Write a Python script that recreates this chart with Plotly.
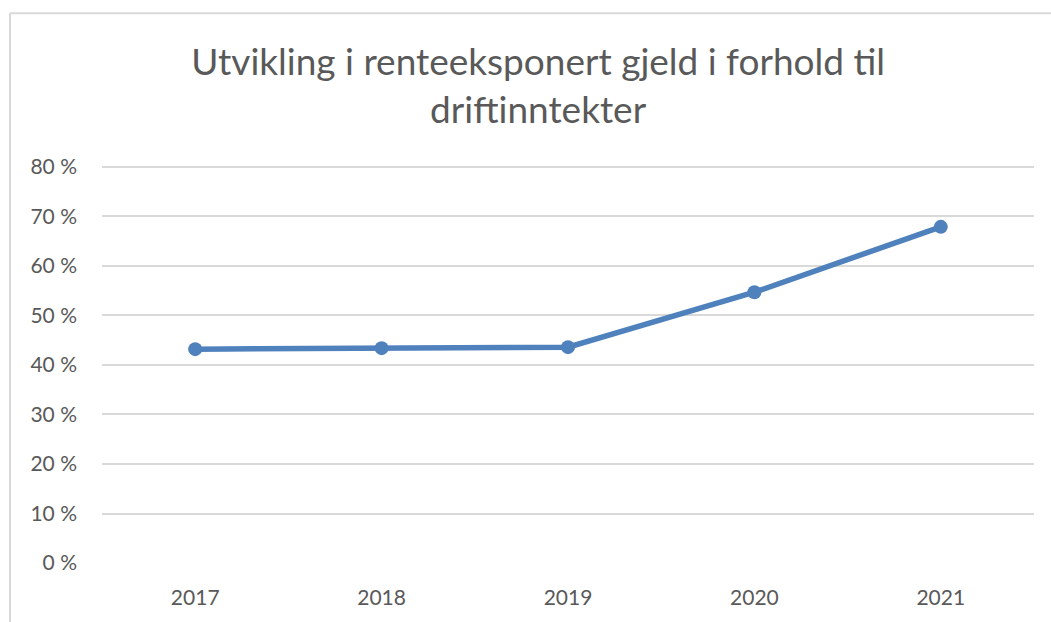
import plotly.graph_objects as go

# -------------------------------------
# DATA
# -------------------------------------

years = ["2017", "2018", "2019", "2020", "2021"]
andel = [43.2, 43.4, 43.6, 54.7, 67.9]
y_ticks = [0, 10, 20, 30, 40, 50, 60, 70, 80]
y_labels = [f"{v} %" for v in y_ticks]

title_text = "Utvikling i renteeksponert gjeld i forhold til<br>driftinntekter"

# -------------------------------------
# CHART
# -------------------------------------

fig = go.Figure()

fig.add_trace(
    go.Scatter(
        x=years,
        y=andel,
        mode="lines+markers",
        line=dict(color="#4f81bd", width=5.5),
        marker=dict(color="#4f81bd", size=14),
        showlegend=False,
        hoverinfo="skip"
    )
)

# chart frame (top and left edge, as in the screenshot)
fig.add_shape(type="line", xref="paper", yref="paper",
              x0=-0.0987, x1=1.02, y0=1.378, y1=1.378,
              line=dict(color="#d9d9d9", width=2))
fig.add_shape(type="line", xref="paper", yref="paper",
              x0=-0.0987, x1=-0.0987, y0=1.378, y1=-0.16,
              line=dict(color="#d9d9d9", width=2))

fig.update_layout(
    width=1051,
    height=622,
    paper_bgcolor="white",
    plot_bgcolor="white",
    margin=dict(l=102, r=17, t=164, b=59),
    font=dict(family="Lato, Open Sans, sans-serif", color="#595959", size=21),
    title=dict(
        text=title_text,
        x=0.512,
        xanchor="center",
        y=1 - 75 / 622,
        yanchor="middle",
        font=dict(size=37, color="#595959", family="Lato, sans-serif")
    )
)

fig.update_xaxes(
    type="category",
    range=[-0.5, 4.5],
    showgrid=False,
    showline=False,
    zeroline=False,
    ticks="",
    ticklabelstandoff=20,
    tickfont=dict(size=21, color="#595959")
)

fig.update_yaxes(
    range=[0, 80.6],
    tickmode="array",
    tickvals=y_ticks,
    ticktext=y_labels,
    showgrid=True,
    gridcolor="#d9d9d9",
    gridwidth=1.5,
    zeroline=False,
    showline=False,
    ticks="",
    ticklabelstandoff=24,
    tickfont=dict(size=21, color="#595959")
)

# drop the default 8px page margin so the chart sits at the window origin
fig.write_html(
    "out.html",
    config={"displayModeBar": False},
    post_script="document.body.style.margin='0';"
)
